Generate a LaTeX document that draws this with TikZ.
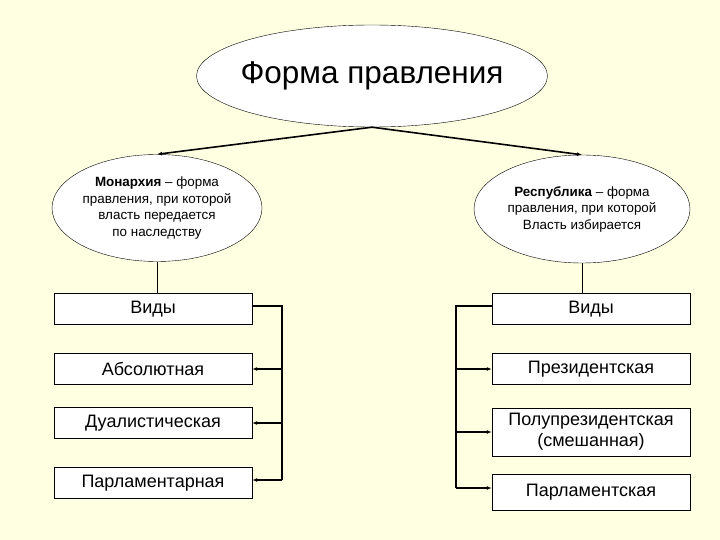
\documentclass[tikz,border=0pt]{standalone}
\usepackage{fontspec}
\setmainfont{Liberation Sans}
\usepackage{tikz}
\usetikzlibrary{shapes,arrows.meta,positioning,calc}
\definecolor{paper}{RGB}{255,255,226}

\begin{document}
\begin{tikzpicture}[
    x=1pt, y=-1pt,
    oval/.style={ellipse, draw, fill=white, inner sep=0pt, align=center, font=\fontsize{13.4}{16.5}\selectfont},
    kind/.style={rectangle, draw, fill=white, minimum width=198pt, align=center, inner sep=0pt, font=\fontsize{18}{21}\selectfont},
    arrow/.style={-{Latex[length=5pt,width=4pt]}, line width=1.6pt},
    bus/.style={line width=1.2pt}
]
\fill[paper] (0,0) rectangle (720,540);
\useasboundingbox (0,0) rectangle (720,540);

\node[oval, minimum width=351pt, minimum height=102pt, inner xsep=-20pt, font=\fontsize{31.5}{36}\selectfont] (form) at (372,76) {Форма правления};
\node[oval, minimum width=210pt, minimum height=107pt, inner xsep=-6pt] (mon) at (157,208)
    {\textbf{Монархия} -- форма\\правления, при которой\\власть передается\\по наследству};
\node[oval, minimum width=216pt, minimum height=108pt, inner xsep=-6pt] (rep) at (582,209)
    {\textbf{Республика} -- форма\\правления, при которой\\Власть избирается};

\draw[arrow] (form.south) -- (mon.north);
\draw[arrow] (form.south) -- (rep.north);

% monarchy types
\node[kind, minimum height=31pt] (lv) at (153,309) {Виды};
\node[kind, minimum height=31pt] (la) at (153,369) {Абсолютная};
\node[kind, minimum height=31pt] (ld) at (153,423) {Дуалистическая};
\node[kind, minimum height=31pt] (lp) at (153,483) {Парламентарная};

\draw (mon.south) -- (mon.south |- lv.north);
\coordinate (lbus) at (282,306);
\draw[bus] (lbus -| lv.east) -- (lbus) -- ++(0,174);
\draw[arrow] (lbus |- la.east) -- (la.east);
\draw[arrow] (lbus |- ld.east) -- (ld.east);
\draw[arrow] (282,480) -- (282,480 -| lp.east);

% republic types
\node[kind, minimum height=31pt] (rv) at (591,309) {Виды};
\node[kind, minimum height=31pt] (rpr) at (591,369) {Президентская};
\node[kind, minimum height=48pt] (rpp) at (591,432) {Полупрезидентская\\(смешанная)};
\node[kind, minimum height=36pt] (rpa) at (591,492) {Парламентская};

\draw (rep.south) -- (rep.south |- rv.north);
\coordinate (rbus) at (456,306);
\draw[bus] (rbus -| rv.west) -- (rbus) -- ++(0,182);
\draw[arrow] (rbus |- rpr.west) -- (rpr.west);
\draw[arrow] (rbus |- rpp.west) -- (rpp.west);
\draw[arrow] (456,488) -- (456,488 -| rpa.west);
\end{tikzpicture}
\end{document}
